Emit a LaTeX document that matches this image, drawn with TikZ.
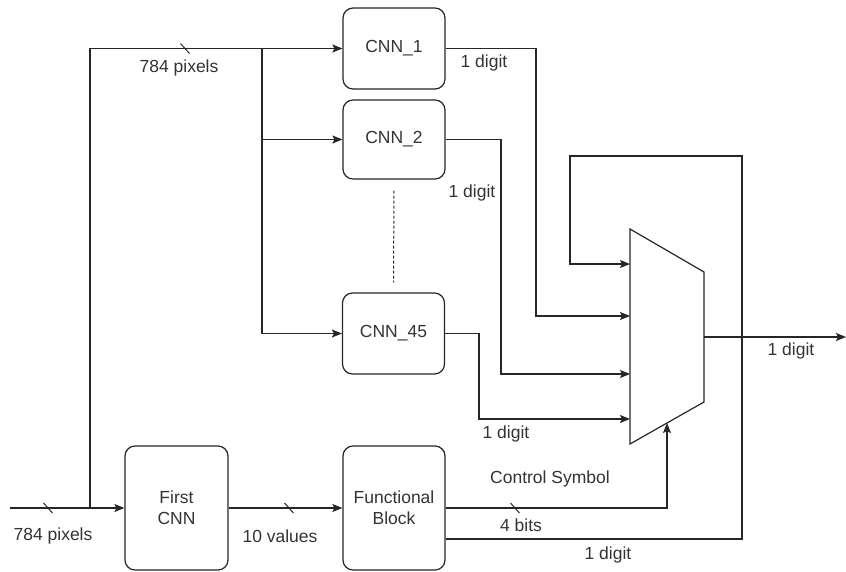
\documentclass[tikz,border=0pt]{standalone}
\usepackage{fontspec}
\setmainfont{Liberation Sans}
\usetikzlibrary{arrows.meta}

\begin{document}
\begin{tikzpicture}[x=1pt,y=-1pt,font=\fontsize{17.5}{21}\selectfont,>=Stealth,
  block/.style={draw=black!85,line width=1.2pt,rounded corners=10pt,
    minimum width=102pt,align=center,text=black!80},
  wire/.style={draw=black!85,line width=1.2pt},
  feed/.style={wire,-{Stealth[length=10pt,width=8pt,inset=2pt]}},
  tick/.style={draw=black!85,line width=1pt},
  lbl/.style={text=black!80,inner sep=0pt},
]
\useasboundingbox (0,0) rectangle (846,571);

\node[block,minimum height=81pt] (cnn1) at (394,48.5) {CNN\_1};
\node[block,minimum height=79pt] (cnn2) at (394,139.5) {CNN\_2};
\node[block,minimum height=81pt] (cnn45) at (393.5,333.5) {CNN\_45};
\node[block,minimum height=124pt,minimum width=103pt] (first) at (176.5,508) {First\\CNN};
\node[block,minimum height=124pt] (func) at (394,508) {Functional\\Block};

% multiplexer
\draw[wire] (630,229) coordinate (mux-tl) -- (704,272) coordinate (mux-tr)
  -- (704,402) coordinate (mux-br) -- (630,444) coordinate (mux-bl) -- cycle;
\coordinate (in0) at (630,264);
\coordinate (in1) at (630,316);
\coordinate (in2) at (630,374);
\coordinate (in3) at (630,419);
\coordinate (mux-sel) at (667,423);
\coordinate (mux-out) at (704,337);
\coordinate (out) at (846,337);

% input and fan-out
\coordinate (in) at (10,508);
\coordinate (split) at (90,508);
\coordinate (fork) at (262,48.5);
\draw[feed] (in) -- (first.west);
\draw[feed] (split) |- (cnn1.west);
\draw[feed] (fork) |- (cnn2.west);
\draw[feed] (fork) |- (cnn45.west);
\draw[draw=black!85,line width=1pt,dash pattern=on 3pt off 2pt,
  shorten <=11pt,shorten >=10pt] (cnn2.south) -- (cnn45.north);
\draw[feed] (first.east) -- (func.west);

% to the mux
\draw[feed] (cnn1.east) -| (536,316) -- (in1);
\draw[feed] (cnn2.east) -| (501,374) -- (in2);
\draw[feed] (cnn45.east) -| (479,419) -- (in3);
\draw[feed] (func.east) -| (mux-sel);
\draw[feed] (func.east |- 0,539) -| (742,156) -| (570,264) -- (in0);
\draw[feed] (mux-out) -- (out);

% bus marks
\draw[tick] (185,48.5) ++(-4.5,-5) -- ++(9,10);
\draw[tick] (48,508) ++(-4.5,-5) -- ++(9,10);
\draw[tick] (289,508) ++(-4.5,-5) -- ++(9,10);
\draw[tick] (515,508) ++(-4.5,-5) -- ++(9,10);

\node[lbl] (l-px1) at (179,68) {784 pixels};
\node[lbl] (l-px0) at (53,536) {784 pixels};
\node[lbl] (l-val) at (280,536) {10 values};
\node[lbl] (l-d1) at (484,63) {1 digit};
\node[lbl] (l-d2) at (472,193) {1 digit};
\node[lbl] (l-d45) at (506,434) {1 digit};
\node[lbl] (l-out) at (791,351) {1 digit};
\node[lbl] (l-fb) at (608,555) {1 digit};
\node[lbl] (l-ctrl) at (550,479) {Control Symbol};
\node[lbl] (l-bits) at (521,525) {4 bits};

\end{tikzpicture}
\end{document}
